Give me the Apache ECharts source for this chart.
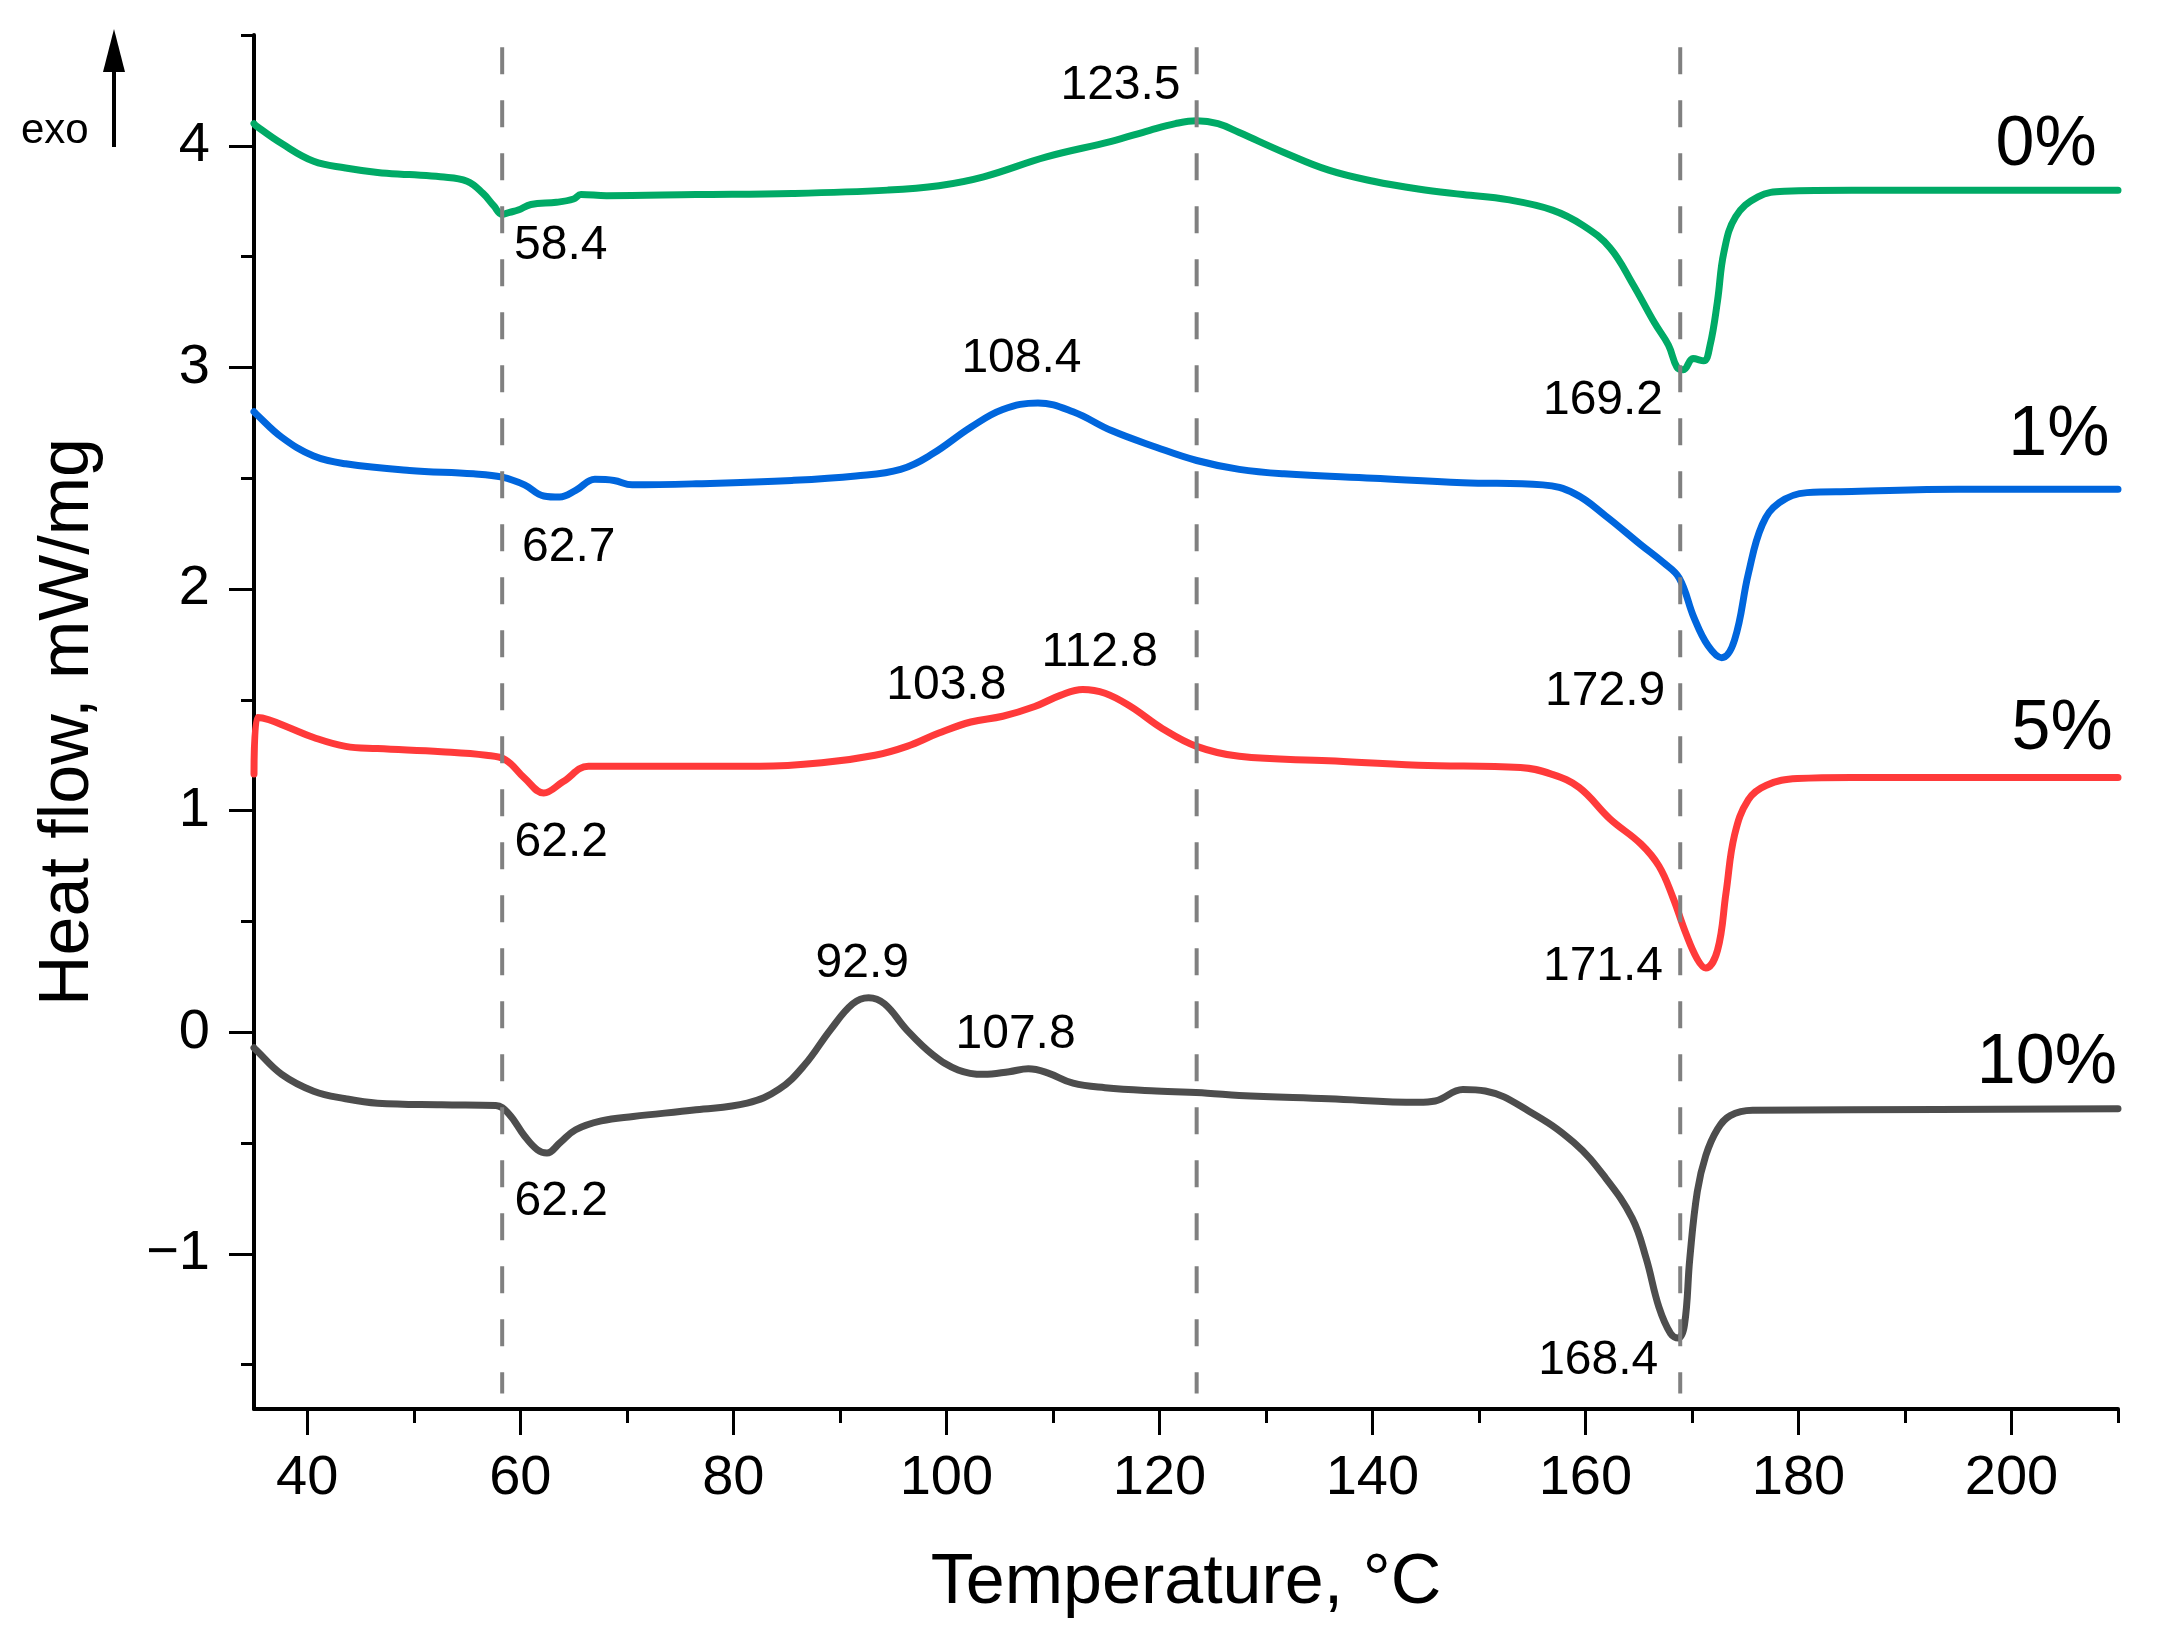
<!DOCTYPE html>
<html>
<head>
<meta charset="utf-8">
<title>DSC curves</title>
<script src="https://cdn.jsdelivr.net/npm/echarts@6/dist/echarts.min.js"></script>
<style>
  html, body { margin: 0; padding: 0; background: #fff; }
  #chart { width: 2172px; height: 1640px; }
</style>
</head>
<body>
<div id="chart"></div>
<script>
  // heat flow curves, [temperature °C, mW/mg]
  var curve0 = [[35.0, 4.10], [35.2, 4.09], [37.6, 4.01], [40.6, 3.93], [43.6, 3.90], [46.6, 3.88], [49.6, 3.87],
    [52.5, 3.86], [55.0, 3.84], [56.5, 3.785], [57.5, 3.73], [58.3, 3.69], [59.0, 3.70], [59.8, 3.71], [61.0, 3.735],
    [63.4, 3.745], [65.0, 3.76], [65.7, 3.78], [68.1, 3.775], [76.5, 3.78], [85.5, 3.785], [94.5, 3.80], [99.3, 3.82],
    [103.5, 3.86], [109.4, 3.95], [115.5, 4.02], [119.1, 4.07], [121.5, 4.10], [123.5, 4.113], [125.5, 4.10],
    [127.5, 4.06], [131.7, 3.97], [135.9, 3.89], [140.1, 3.84], [144.3, 3.805], [148.5, 3.78], [152.7, 3.757],
    [156.9, 3.71], [159.8, 3.64], [162.3, 3.54], [164.4, 3.38], [166.5, 3.20], [167.8, 3.10], [168.6, 3.0],
    [169.2, 2.99], [170.1, 3.04], [171.1, 3.03], [171.7, 3.10], [172.4, 3.30], [173.0, 3.52], [174.1, 3.68],
    [176.2, 3.77], [178.7, 3.795], [185, 3.80], [195, 3.80], [210, 3.80]];
  var curve1 = [[35.0, 2.80], [35.2, 2.79], [37.6, 2.685], [40.6, 2.60], [43.6, 2.565], [49.6, 2.535], [55.6, 2.52],
    [58.3, 2.505], [60.4, 2.47], [62.2, 2.42], [63.7, 2.415], [65.2, 2.445], [67.0, 2.495], [68.8, 2.49], [70.5, 2.47],
    [76.5, 2.475], [85.5, 2.49], [91.5, 2.51], [95.7, 2.54], [98.7, 2.61], [102.3, 2.73], [105.3, 2.81], [108.6, 2.84],
    [111.9, 2.80], [115.5, 2.715], [119.7, 2.64], [123.5, 2.58], [127.5, 2.54], [131.7, 2.52], [140.1, 2.50],
    [148.5, 2.48], [156.0, 2.47], [159.0, 2.43], [161.9, 2.33], [165.2, 2.20], [167.3, 2.12], [168.8, 2.05],
    [170.2, 1.87], [171.5, 1.745], [172.8, 1.69], [174.0, 1.77], [175.3, 2.07], [176.6, 2.29], [178.2, 2.39],
    [180.8, 2.435], [185, 2.44], [195, 2.45], [210, 2.45]];
  var curve5 = [[35.0, 1.165], [35.3, 1.42], [36.4, 1.41], [38.2, 1.376], [40.6, 1.33], [43.6, 1.29], [46.6, 1.28],
    [52.6, 1.266], [56.8, 1.25], [58.6, 1.23], [60.4, 1.147], [62.2, 1.08], [64.0, 1.13], [66.4, 1.20], [70.6, 1.20],
    [76.5, 1.20], [82.5, 1.20], [88.5, 1.217], [93.3, 1.25], [96.3, 1.29], [99.3, 1.35], [102.3, 1.40], [105.3, 1.426],
    [108.3, 1.47], [110.7, 1.52], [112.8, 1.547], [114.9, 1.53], [117.3, 1.47], [120.3, 1.37], [123.5, 1.29],
    [127.5, 1.245], [135.9, 1.225], [144.3, 1.205], [153.9, 1.195], [156.8, 1.165], [159.4, 1.105], [162.3, 0.963],
    [165.2, 0.85], [166.9, 0.75], [168.2, 0.61], [169.4, 0.45], [170.5, 0.33], [171.3, 0.29], [172.4, 0.37],
    [173.2, 0.63], [174.0, 0.89], [175.3, 1.05], [177.0, 1.115], [179.9, 1.145], [185, 1.15], [210, 1.15]];
  var curve10 = [[35.0, -0.07], [35.2, -0.08], [37.6, -0.19], [40.6, -0.266], [43.6, -0.30], [46.6, -0.32],
    [52.6, -0.327], [57.7, -0.33], [58.9, -0.367], [60.4, -0.468], [61.6, -0.53], [62.5, -0.545], [63.7, -0.50],
    [65.2, -0.44], [67.6, -0.40], [70.6, -0.38], [76.5, -0.35], [81.3, -0.32], [84.3, -0.257], [86.7, -0.147],
    [89.1, 0.01], [91.2, 0.128], [92.7, 0.156], [94.2, 0.128], [96.3, 0.01], [98.7, -0.10], [101.1, -0.17],
    [103.5, -0.19], [105.9, -0.178], [107.7, -0.165], [109.5, -0.183], [111.9, -0.23], [114.9, -0.25],
    [119.7, -0.265], [124.5, -0.275], [127.5, -0.285], [135.9, -0.30], [144.3, -0.316], [145.9, -0.31],
    [148.5, -0.258], [150.6, -0.265], [154.7, -0.356], [158.9, -0.497], [161.9, -0.658], [164.4, -0.84],
    [165.7, -1.02], [166.9, -1.24], [168.0, -1.36], [168.7, -1.38], [169.3, -1.32], [169.8, -1.02], [170.5, -0.72],
    [171.3, -0.556], [172.4, -0.437], [173.6, -0.376], [175.7, -0.352], [185, -0.35], [210, -0.345]];

  // curve names and where their labels sit (right edge)
  var curveNames = ['0%', '1%', '5%', '10%'];
  var nameX = [208.0, 209.2, 209.5, 209.9];
  var nameY = [4.0, 2.69, 1.367, -0.14];

  // peak temperatures written on the plot
  var peakText = ['123.5', '58.4', '108.4', '169.2', '62.7', '172.9', '103.8', '112.8', '62.2', '171.4', '92.9', '107.8', '62.2', '168.4'];
  var peakX = [116.35, 63.8, 107.05, 161.65, 64.55, 161.85, 100.0, 114.4, 63.85, 161.65, 92.1, 106.5, 63.85, 161.2];
  var peakY = [4.27, 3.547, 3.04, 2.848, 2.185, 1.535, 1.565, 1.712, 0.855, 0.294, 0.307, -0.01, -0.765, -1.484];

  // dashed guide lines
  var guideX = [58.3, 123.5, 168.9];
  var guideTop = 4.445;
  var guideBottom = -1.63;

  // axis ticks
  var xMajor = [40, 60, 80, 100, 120, 140, 160, 180, 200];
  var xMinor = [50, 70, 90, 110, 130, 150, 170, 190, 210];
  var yMajor = [-1, 0, 1, 2, 3, 4];
  var yMinor = [-1.5, -0.5, 0.5, 1.5, 2.5, 3.5, 4.5];

  var colors = ['#00AA66', '#0066DD', '#FF3A3A', '#4D4D4D'];
  var curves = [curve0, curve1, curve5, curve10];
  var FONT = "'Liberation Sans', Arial, sans-serif";

  var chart = echarts.init(document.getElementById('chart'));

  var series = [];
  curves.forEach(function (c, i) {
    series.push({
      name: curveNames[i],
      type: 'line',
      data: c,
      smooth: 0.4,
      showSymbol: false,
      lineStyle: { width: 7, color: colors[i], cap: 'round', join: 'round' },
      z: 2
    });
  });

  // guide lines drawn over the curves
  guideX.forEach(function (x) {
    series.push({
      type: 'line',
      data: [[x, guideTop], [x, guideBottom]],
      showSymbol: false,
      silent: true,
      lineStyle: { width: 4, color: '#808080', type: [27, 26] },
      z: 5
    });
  });

  // peak labels
  series.push({
    type: 'scatter',
    symbolSize: 0,
    silent: true,
    itemStyle: { opacity: 1 },
    data: peakText.map(function (t, i) { return { name: t, value: [peakX[i], peakY[i]] }; }),
    label: {
      show: true,
      position: 'inside',
      formatter: '{b}',
      color: '#000',
      opacity: 1,
      textBorderWidth: 0,
      fontSize: 48,
      fontFamily: FONT
    },
    z: 6
  });

  // curve names
  series.push({
    type: 'scatter',
    symbolSize: 0,
    silent: true,
    itemStyle: { opacity: 1 },
    data: curveNames.map(function (t, i) { return { name: t, value: [nameX[i], nameY[i]] }; }),
    label: {
      show: true,
      position: 'inside',
      align: 'right',
      formatter: '{b}',
      color: '#000',
      opacity: 1,
      textBorderWidth: 0,
      fontSize: 70,
      fontFamily: FONT
    },
    z: 6
  });

  chart.setOption({
    animation: false,
    backgroundColor: '#fff',
    grid: { left: 254, right: 54, top: 35, bottom: 231 },
    xAxis: [
      {
        type: 'value', min: 35, max: 210,
        name: 'Temperature, °C', nameLocation: 'middle', nameGap: 140,
        nameTextStyle: { color: '#000', fontSize: 70, fontFamily: FONT },
        axisLine: { show: true, onZero: false, lineStyle: { color: '#000', width: 4 } },
        axisTick: { show: true, length: 26, customValues: xMajor, lineStyle: { color: '#000', width: 3 } },
        axisLabel: { show: true, margin: 42, customValues: xMajor, color: '#000', fontSize: 56, fontFamily: FONT },
        splitLine: { show: false }
      },
      {
        type: 'value', min: 35, max: 210, position: 'bottom',
        axisLine: { show: false, onZero: false },
        axisTick: { show: true, length: 14, customValues: xMinor, lineStyle: { color: '#000', width: 3 } },
        axisLabel: { show: false },
        splitLine: { show: false }
      }
    ],
    yAxis: [
      {
        type: 'value', min: -1.7, max: 4.5,
        name: 'Heat flow, mW/mg', nameLocation: 'middle', nameGap: 150, nameRotate: 90,
        nameTextStyle: { color: '#000', fontSize: 70, fontFamily: FONT },
        axisLine: { show: true, onZero: false, lineStyle: { color: '#000', width: 4 } },
        axisTick: { show: true, length: 25, customValues: yMajor, lineStyle: { color: '#000', width: 3 } },
        axisLabel: {
          show: true, margin: 44, customValues: yMajor, color: '#000', fontSize: 56, fontFamily: FONT,
          formatter: function (v) { return v < 0 ? '\u2212' + Math.abs(v) : String(v); }
        },
        splitLine: { show: false }
      },
      {
        type: 'value', min: -1.7, max: 4.5, position: 'left',
        axisLine: { show: false, onZero: false },
        axisTick: { show: true, length: 13, customValues: yMinor, lineStyle: { color: '#000', width: 3 } },
        axisLabel: { show: false },
        splitLine: { show: false }
      }
    ],
    // "exo" direction arrow at the top left
    graphic: [
      { type: 'text', style: { text: 'exo', x: 21, y: 131, fill: '#000', font: '42px ' + FONT, textVerticalAlign: 'middle' } },
      { type: 'line', shape: { x1: 114, y1: 66, x2: 114, y2: 147 }, style: { stroke: '#000', lineWidth: 4 } },
      { type: 'polygon', shape: { points: [[114, 29], [103, 72], [125, 72]] }, style: { fill: '#000' } }
    ],
    series: series
  });
</script>
</body>
</html>
